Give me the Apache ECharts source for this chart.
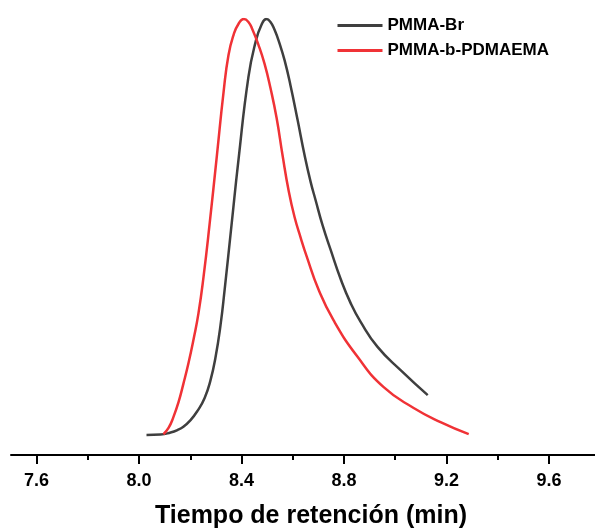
<!DOCTYPE html>
<html>
<head>
<meta charset="utf-8">
<script src="https://cdn.jsdelivr.net/npm/echarts@6/dist/echarts.min.js"></script>
<style>
  html, body { margin: 0; padding: 0; background: #fff; }
  #gpcChart { width: 595px; height: 531px; }
</style>
</head>
<body>
<div id="gpcChart"></div>
<script>
// 曲线数据（从图中读取，强度已归一化）
var seriesNames = ['PMMA-Br', 'PMMA-b-PDMAEMA'];

var brTime = [8.029, 8.084, 8.123, 8.150, 8.173, 8.201, 8.228, 8.256, 8.279, 8.298, 8.318, 8.334, 8.361, 8.388, 8.427, 8.455, 8.478, 8.497, 8.513, 8.529, 8.548, 8.568, 8.591, 8.619, 8.646, 8.670, 8.689, 8.716, 8.748, 8.787, 8.826, 8.865, 8.931, 9.021, 9.127];
var brSignal = [0, 0.001, 0.006, 0.012, 0.020, 0.036, 0.058, 0.089, 0.132, 0.185, 0.264, 0.349, 0.505, 0.661, 0.861, 0.945, 0.986, 1.0, 0.993, 0.974, 0.942, 0.901, 0.841, 0.757, 0.673, 0.608, 0.565, 0.505, 0.445, 0.375, 0.317, 0.272, 0.212, 0.156, 0.096];

var copTime = [8.095, 8.115, 8.134, 8.154, 8.173, 8.193, 8.213, 8.232, 8.252, 8.275, 8.304, 8.330, 8.349, 8.369, 8.388, 8.409, 8.427, 8.443, 8.466, 8.490, 8.513, 8.537, 8.560, 8.584, 8.607, 8.631, 8.654, 8.701, 8.759, 8.853, 8.955, 9.072, 9.177, 9.287];
var copSignal = [0.002, 0.017, 0.043, 0.079, 0.123, 0.173, 0.231, 0.293, 0.382, 0.505, 0.673, 0.825, 0.913, 0.962, 0.988, 1.0, 0.993, 0.974, 0.938, 0.892, 0.834, 0.762, 0.673, 0.587, 0.524, 0.474, 0.430, 0.349, 0.276, 0.188, 0.115, 0.065, 0.031, 0.002];

// 刻度
var majorTicks = [7.6, 8.0, 8.4, 8.8, 9.2, 9.6];
var minorTicks = [7.8, 8.2, 8.6, 9.0, 9.4];

var fontFamily = '"Liberation Sans", Arial, sans-serif';

function toPairs(xs, ys) {
  return xs.map(function (x, i) { return [x, ys[i]]; });
}

var gpcChart = echarts.init(document.getElementById('gpcChart'));

var option = {
  animation: false,
  backgroundColor: '#fff',
  grid: {
    left: 11,
    right: 0,
    top: 19,
    bottom: 76,
    outerBoundsMode: 'none'
  },
  legend: {
    orient: 'vertical',
    left: 336,
    top: 17,
    padding: 0,
    itemWidth: 45,
    itemHeight: 16,
    itemGap: 8,
    data: seriesNames,
    itemStyle: { opacity: 0 },
    lineStyle: { width: 3 },
    textStyle: {
      fontFamily: fontFamily,
      fontWeight: 'bold',
      fontSize: 17,
      color: '#000'
    }
  },
  xAxis: [
    {
      type: 'value',
      min: 7.5,
      max: 9.78,
      name: 'Tiempo de retención (min)',
      nameLocation: 'middle',
      nameGap: 49,
      nameTextStyle: {
        fontFamily: fontFamily,
        fontWeight: 'bold',
        fontSize: 25,
        color: '#000',
        padding: [0, 0, 0, 16]
      },
      axisLine: { onZero: false, lineStyle: { color: '#000', width: 2 } },
      axisTick: {
        customValues: majorTicks,
        length: 9,
        lineStyle: { color: '#000', width: 2 }
      },
      axisLabel: {
        customValues: majorTicks,
        margin: 17,
        fontFamily: fontFamily,
        fontWeight: 'bold',
        fontSize: 18,
        color: '#000',
        formatter: function (v) { return v.toFixed(1); }
      },
      splitLine: { show: false }
    },
    {
      type: 'value',
      min: 7.5,
      max: 9.78,
      position: 'bottom',
      axisLine: { show: false, onZero: false },
      axisTick: {
        customValues: minorTicks,
        length: 5,
        lineStyle: { color: '#000', width: 2 }
      },
      axisLabel: { show: false },
      splitLine: { show: false }
    }
  ],
  yAxis: {
    type: 'value',
    show: false,
    min: -0.048,
    max: 1
  },
  series: [
    {
      name: seriesNames[0],
      type: 'line',
      xAxisIndex: 0,
      symbol: 'none',
      smooth: 0.5,
      data: toPairs(brTime, brSignal),
      lineStyle: { color: '#3f3f3f', width: 2.5 },
      itemStyle: { color: '#3f3f3f' }
    },
    {
      name: seriesNames[1],
      type: 'line',
      xAxisIndex: 0,
      symbol: 'none',
      smooth: 0.5,
      data: toPairs(copTime, copSignal),
      lineStyle: { color: '#f03236', width: 2.5 },
      itemStyle: { color: '#f03236' }
    }
  ]
};

gpcChart.setOption(option);
</script>
</body>
</html>
